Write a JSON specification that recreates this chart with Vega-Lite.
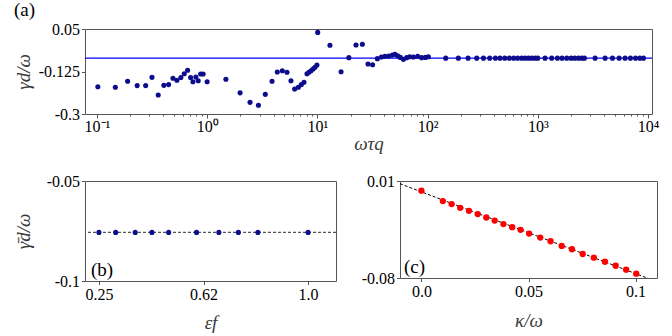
{
  "$schema": "https://vega.github.io/schema/vega-lite/v6.json",
  "background": "white",
  "padding": {"left": 13, "top": 0, "right": 5, "bottom": 0},
  "config": {
    "font": "Liberation Serif",
    "view": {"stroke": "#555555", "strokeWidth": 1},
    "axis": {"domain": false, "grid": false, "tickColor": "#555555", "tickSize": 3.5, "tickWidth": 1,
      "labelFont": "Liberation Serif", "labelFontSize": 16, "labelColor": "#000000", "labelPadding": 2,
      "titleFont": "Liberation Serif", "titleFontSize": 19, "titleFontStyle": "italic", "titleFontWeight": "normal",
      "titleColor": "#3a3a3a", "labelFlush": false, "labelOverlap": false},
    "title": {"font": "Liberation Serif", "fontSize": 19, "fontWeight": "normal", "anchor": "start", "frame": "bounds", "color": "#000000"}
  },
  "spacing": 18,
  "vconcat": [
    {
      "width": 567, "height": 85,
      "title": {"text": "(a)", "offset": 1},
      "layer": [
        {
          "data": {"values": [{"g": -0.07}]},
          "mark": {"type": "rule", "color": "#0000ff", "strokeWidth": 1.3},
          "encoding": {"y": {"field": "g", "type": "quantitative"}}
        },
        {
          "data": {"values": [
            {"wt": 0.102, "g": -0.1875}, {"wt": 0.147, "g": -0.19}, {"wt": 0.19, "g": -0.165}, {"wt": 0.232, "g": -0.183},
            {"wt": 0.277, "g": -0.183}, {"wt": 0.316, "g": -0.149}, {"wt": 0.36, "g": -0.222}, {"wt": 0.405, "g": -0.182},
            {"wt": 0.447, "g": -0.179}, {"wt": 0.49, "g": -0.153}, {"wt": 0.532, "g": -0.161}, {"wt": 0.578, "g": -0.15},
            {"wt": 0.62, "g": -0.134}, {"wt": 0.665, "g": -0.12}, {"wt": 0.708, "g": -0.15}, {"wt": 0.743, "g": -0.167},
            {"wt": 0.79, "g": -0.148}, {"wt": 0.83, "g": -0.163}, {"wt": 0.873, "g": -0.135}, {"wt": 0.92, "g": -0.135},
            {"wt": 1.0, "g": -0.167}, {"wt": 1.48, "g": -0.157}, {"wt": 1.99, "g": -0.213}, {"wt": 2.45, "g": -0.252},
            {"wt": 2.92, "g": -0.264}, {"wt": 3.37, "g": -0.219}, {"wt": 3.88, "g": -0.165}, {"wt": 4.33, "g": -0.127},
            {"wt": 4.81, "g": -0.122}, {"wt": 5.3, "g": -0.128}, {"wt": 5.76, "g": -0.163}, {"wt": 6.22, "g": -0.197},
            {"wt": 6.72, "g": -0.19}, {"wt": 7.16, "g": -0.179}, {"wt": 7.56, "g": -0.169}, {"wt": 8.05, "g": -0.134},
            {"wt": 8.39, "g": -0.128}, {"wt": 8.75, "g": -0.122}, {"wt": 9.13, "g": -0.115}, {"wt": 9.51, "g": -0.108},
            {"wt": 9.91, "g": -0.098}, {"wt": 10.07, "g": 0.036}, {"wt": 13.0, "g": -0.017}, {"wt": 16.4, "g": -0.126},
            {"wt": 19.3, "g": -0.068}, {"wt": 22.4, "g": -0.016}, {"wt": 25.6, "g": -0.013}, {"wt": 28.8, "g": -0.094},
            {"wt": 31.7, "g": -0.097}, {"wt": 35.0, "g": -0.072}, {"wt": 38.1, "g": -0.065}, {"wt": 41.0, "g": -0.062},
            {"wt": 44.4, "g": -0.061}, {"wt": 47.9, "g": -0.057}, {"wt": 50.6, "g": -0.054}, {"wt": 53.5, "g": -0.06},
            {"wt": 56.6, "g": -0.067}, {"wt": 60.3, "g": -0.075}, {"wt": 64.6, "g": -0.068}, {"wt": 68.8, "g": -0.064},
            {"wt": 74.3, "g": -0.065}, {"wt": 81.3, "g": -0.062}, {"wt": 88.3, "g": -0.068}, {"wt": 95.5, "g": -0.067},
            {"wt": 101.6, "g": -0.064},
            {"wt": 146, "g": -0.07}, {"wt": 190, "g": -0.07}, {"wt": 233, "g": -0.07}, {"wt": 279, "g": -0.07},
            {"wt": 321, "g": -0.07}, {"wt": 366, "g": -0.07}, {"wt": 412, "g": -0.07}, {"wt": 454, "g": -0.07},
            {"wt": 501, "g": -0.07}, {"wt": 552, "g": -0.07}, {"wt": 604, "g": -0.07}, {"wt": 657, "g": -0.07},
            {"wt": 714, "g": -0.07}, {"wt": 766, "g": -0.07}, {"wt": 822, "g": -0.07}, {"wt": 881, "g": -0.07},
            {"wt": 944, "g": -0.07}, {"wt": 998, "g": -0.07}, {"wt": 1162, "g": -0.07}, {"wt": 1335, "g": -0.07},
            {"wt": 1505, "g": -0.07}, {"wt": 1659, "g": -0.07}, {"wt": 1829, "g": -0.07}, {"wt": 2001, "g": -0.07},
            {"wt": 2161, "g": -0.07}, {"wt": 2335, "g": -0.07}, {"wt": 2500, "g": -0.07}, {"wt": 2647, "g": -0.07},
            {"wt": 3306, "g": -0.07}, {"wt": 4074, "g": -0.07}, {"wt": 4753, "g": -0.07}, {"wt": 5458, "g": -0.07},
            {"wt": 6185, "g": -0.07}, {"wt": 6918, "g": -0.07}, {"wt": 7690, "g": -0.07}, {"wt": 8411, "g": -0.07},
            {"wt": 9084, "g": -0.07}
          ]},
          "mark": {"type": "circle", "color": "#0c0c8c", "size": 26, "opacity": 1},
          "encoding": {
            "x": {"field": "wt", "type": "quantitative",
              "scale": {"type": "log", "domain": [0.078, 10850], "nice": false},
              "axis": {"title": "ωτq", "titleY": 20, "titleBaseline": "top", "labelPadding": 0,
                "values": [0.1, 0.2, 0.3, 0.4, 0.5, 0.6, 0.7, 0.8, 0.9, 1, 2, 3, 4, 5, 6, 7, 8, 9, 10, 20, 30, 40, 50, 60, 70, 80, 90, 100, 200, 300, 400, 500, 600, 700, 800, 900, 1000, 2000, 3000, 4000, 5000, 6000, 7000, 8000, 9000, 10000],
                "labelExpr": "abs(log(datum.value)/LN10 - round(log(datum.value)/LN10)) < 0.01 ? ['10⁻¹','10⁰','10¹','10²','10³','10⁴'][round(log(datum.value)/LN10)+1] : ''",
                "tickSize": {"condition": {"test": "abs(log(datum.value)/LN10 - round(log(datum.value)/LN10)) < 0.01", "value": 4}, "value": 2}
              }},
            "y": {"field": "g", "type": "quantitative",
              "scale": {"domain": [-0.3, 0.05], "nice": false, "zero": false},
              "axis": {"title": "γd/ω", "titleX": -52, "titleBaseline": "bottom", "values": [0.05, -0.125, -0.3],
                "labelExpr": "datum.value > 0 ? '0.05' : datum.value > -0.2 ? '-0.125' : '-0.3'"}}
          }
        }
      ]
    },
    {
      "spacing": 22,
      "hconcat": [
        {
          "width": 251, "height": 100,
          "layer": [
            {
              "data": {"values": [{"gm": -0.0757}]},
              "mark": {"type": "rule", "color": "#555555", "strokeDash": [3, 2], "strokeWidth": 1.2},
              "encoding": {"y": {"field": "gm", "type": "quantitative"}}
            },
            {
              "data": {"values": [
                {"e": 0.25, "gm": -0.0757}, {"e": 0.31, "gm": -0.0757}, {"e": 0.38, "gm": -0.0757}, {"e": 0.44, "gm": -0.0757},
                {"e": 0.5, "gm": -0.0757}, {"e": 0.6, "gm": -0.0757}, {"e": 0.68, "gm": -0.0757}, {"e": 0.75, "gm": -0.0757},
                {"e": 0.82, "gm": -0.0757}, {"e": 1.0, "gm": -0.0757}
              ]},
              "mark": {"type": "circle", "color": "#0c0c8c", "size": 26, "opacity": 1},
              "encoding": {
                "x": {"field": "e", "type": "quantitative", "scale": {"domain": [0.2, 1.1], "nice": false, "zero": false},
                  "axis": {"title": "εf", "titleY": 32, "titleBaseline": "top", "values": [0.25, 0.625, 1.0],
                    "labelExpr": "datum.value < 0.3 ? '0.25' : datum.value > 0.9 ? '1.0' : '0.62'"}},
                "y": {"field": "gm", "type": "quantitative", "scale": {"domain": [-0.1, -0.05], "nice": false, "zero": false},
                  "axis": {"title": "γ̄d/ω", "titleX": -52, "titleBaseline": "bottom", "values": [-0.05, -0.1],
                    "labelExpr": "datum.value > -0.07 ? '-0.05' : '-0.1'"}}
              }
            },
            {
              "data": {"values": [{}]},
              "mark": {"type": "text", "text": "(b)", "align": "left", "baseline": "bottom", "font": "Liberation Serif", "fontSize": 19, "dx": 6, "dy": -1},
              "encoding": {"x": {"datum": 0.2}, "y": {"datum": -0.1}}
            }
          ]
        },
        {
          "width": 257, "height": 97,
          "layer": [
            {
              "data": {"values": [{"k": -0.01, "v": 0.0075}, {"k": 0.11, "v": -0.0835}]},
              "mark": {"type": "line", "color": "#000000", "strokeDash": [3, 2], "strokeWidth": 1, "clip": true},
              "encoding": {"x": {"field": "k", "type": "quantitative"}, "y": {"field": "v", "type": "quantitative"}}
            },
            {
              "data": {"values": [
                {"k": 0.0, "v": 0.001}, {"k": 0.01, "v": -0.0086}, {"k": 0.0141, "v": -0.0114}, {"k": 0.0181, "v": -0.0149},
                {"k": 0.0222, "v": -0.0177}, {"k": 0.0263, "v": -0.0207}, {"k": 0.0303, "v": -0.0239}, {"k": 0.0342, "v": -0.0267},
                {"k": 0.0383, "v": -0.03}, {"k": 0.0424, "v": -0.0328}, {"k": 0.0463, "v": -0.0353}, {"k": 0.0503, "v": -0.0388},
                {"k": 0.0555, "v": -0.0425}, {"k": 0.0603, "v": -0.0459}, {"k": 0.0655, "v": -0.0502}, {"k": 0.0703, "v": -0.0533},
                {"k": 0.0753, "v": -0.0577}, {"k": 0.0805, "v": -0.0611}, {"k": 0.0857, "v": -0.0649}, {"k": 0.0907, "v": -0.0686},
                {"k": 0.0956, "v": -0.0723}, {"k": 0.1003, "v": -0.076}
              ]},
              "mark": {"type": "circle", "color": "#ff0000", "size": 40, "opacity": 1},
              "encoding": {
                "x": {"field": "k", "type": "quantitative", "scale": {"domain": [-0.01, 0.11], "nice": false, "zero": false},
                  "axis": {"title": "κ/ω", "titleY": 33, "titleBaseline": "top", "values": [0, 0.05, 0.1],
                    "labelExpr": "datum.value < 0.02 ? '0.0' : datum.value < 0.07 ? '0.05' : '0.1'"}},
                "y": {"field": "v", "type": "quantitative", "scale": {"domain": [-0.08, 0.01], "nice": false, "zero": false},
                  "axis": {"title": null, "values": [0.01, -0.08],
                    "labelExpr": "datum.value > 0 ? '0.01' : '-0.08'"}}
              }
            },
            {
              "data": {"values": [{}]},
              "mark": {"type": "text", "text": "(c)", "align": "left", "baseline": "bottom", "font": "Liberation Serif", "fontSize": 19, "dx": 4, "dy": -1},
              "encoding": {"x": {"datum": -0.01}, "y": {"datum": -0.08}}
            }
          ]
        }
      ]
    }
  ]
}
